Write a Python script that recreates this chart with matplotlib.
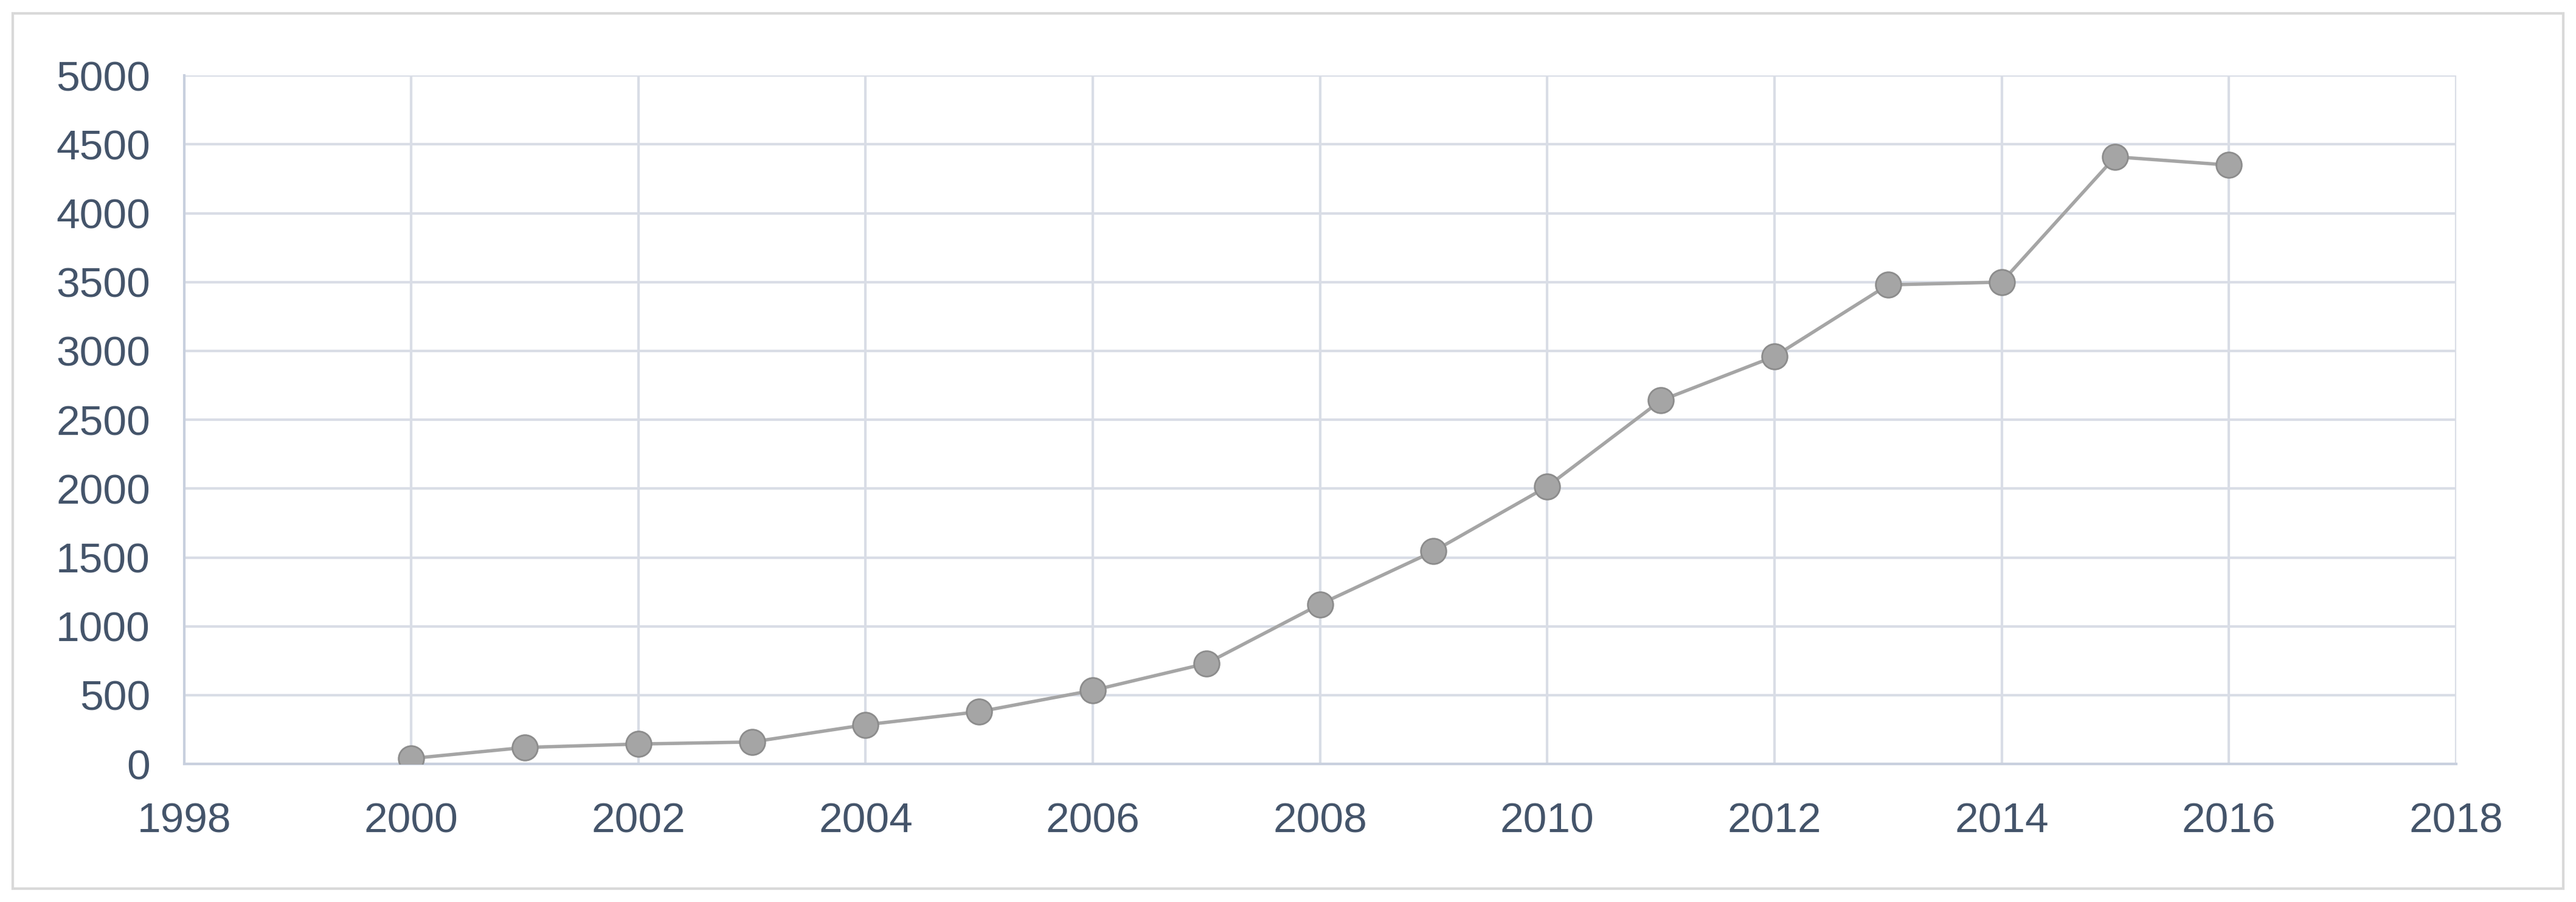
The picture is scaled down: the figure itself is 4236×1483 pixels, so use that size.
import matplotlib
matplotlib.use("Agg")
import matplotlib.pyplot as plt
from matplotlib.patches import Rectangle

plt.rcParams["font.family"] = ["Liberation Sans", "DejaVu Sans"]

years = list(range(2000, 2017))
values = [40, 120, 145, 160, 285, 380, 535, 730, 1160, 1545, 2015, 2640, 2960, 3480, 3500, 4410, 4350]

fig = plt.figure(figsize=(42.36, 14.83), dpi=100)
ax = fig.add_axes([112 / 1568, 1 - 465 / 549, (1495 - 112) / 1568, (465 - 46) / 549])

ax.plot(years, values, color="#a5a5a5", linewidth=4, marker="o", markersize=30,
        markerfacecolor="#a5a5a5", markeredgecolor="#8c8c8c", markeredgewidth=2, zorder=3)

ax.set_xlim(1998, 2018)
ax.set_ylim(0, 5000)
ax.set_xticks(range(1998, 2019, 2))
ax.set_yticks(range(0, 5001, 500))
ax.grid(True, color="#d9dde6", linewidth=3)
ax.set_axisbelow(True)
for s in ["top", "right"]:
    ax.spines[s].set_visible(False)
ax.spines["left"].set_color("#c8d0de")
ax.spines["bottom"].set_color("#c8d0de")
ax.spines["left"].set_linewidth(3)
ax.spines["bottom"].set_linewidth(3)
ax.tick_params(length=0, labelsize=50, colors="#44546a")
ax.tick_params(axis="x", pad=45)
ax.tick_params(axis="y", pad=40)

fig.patches.append(Rectangle((0.005, 0.015), 0.99, 0.97, transform=fig.transFigure,
                             fill=False, edgecolor="#d9d9d9", linewidth=3))

fig.savefig("out.png", dpi=100)
